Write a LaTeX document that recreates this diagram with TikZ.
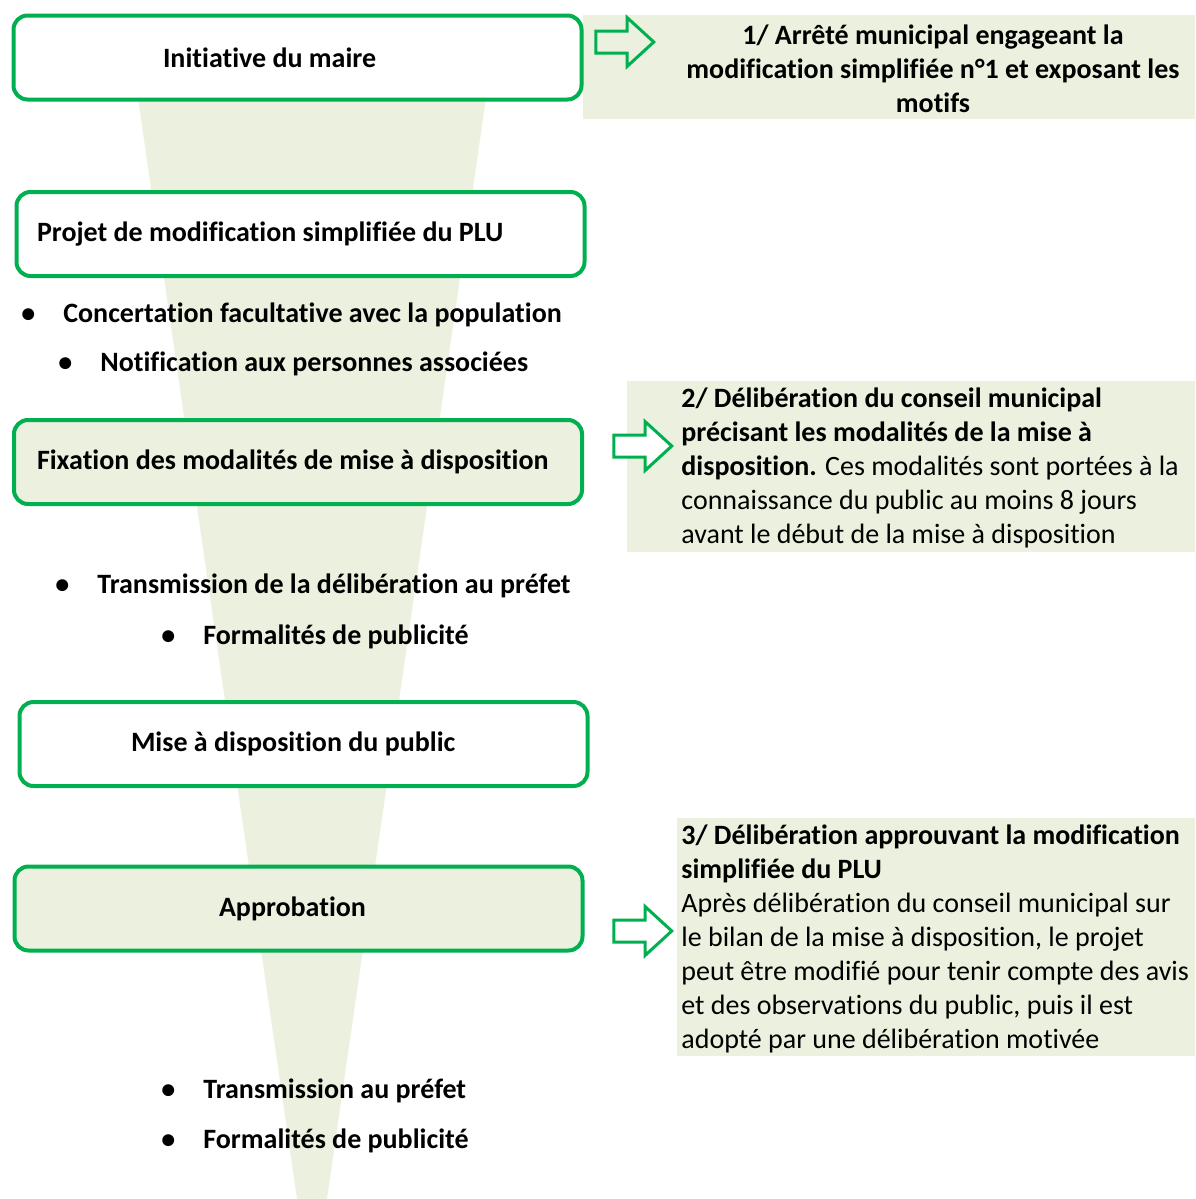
\documentclass[tikz,border=0pt]{standalone}
\usepackage{fontspec}
\setmainfont[Ligatures=NoCommon]{Carlito}
\usepackage{xcolor}
\usepackage{tikz}
\usetikzlibrary{shapes,arrows,positioning}

\definecolor{vertcadre}{HTML}{00B050}
\definecolor{vertpale}{HTML}{EBF1DE}

\begin{document}
\begin{tikzpicture}[
    x=0.5pt, y=-0.5pt,
    etape/.style={rectangle, draw=vertcadre, line width=2pt, rounded corners=7pt, minimum width=284pt, minimum height=42pt, inner sep=0pt, align=flush left, font=\fontsize{14pt}{17pt}\selectfont\bfseries},
    note/.style={inner sep=0pt, font=\fontsize{14pt}{17pt}\selectfont},
    puce/.style={anchor=west, inner sep=0pt, font=\fontsize{14pt}{17pt}\selectfont\bfseries, execute at begin node={\llap{\textbullet\hspace{14pt}}}},
    fleche/.style={single arrow, draw=vertcadre, line width=1.5pt, fill=white, minimum height=29pt, minimum width=23pt, inner xsep=0pt, inner ysep=4.75pt, single arrow head extend=6.75pt, single arrow tip angle=85, anchor=tip}]
    \useasboundingbox (0,0) rectangle (1195,1199);
    % entonnoir
    \fill[vertpale] (132.5,60) -- (491.5,60) -- (327,1199) -- (297,1199) -- cycle;
    % fonds des encadres de droite
    \fill[vertpale] (583,15) rectangle (1195,119);
    \fill[vertpale] (627,381) rectangle (1195,552);
    \fill[vertpale] (677,818) rectangle (1195,1056);

    % etapes
    \node[etape, fill=white, text width=134.5pt] (maire) at (297.5,57.5) {\mbox{Initiative du maire}};
    \node[etape, fill=white, text width=263.5pt] (projet) at (300.5,234) {\mbox{Projet de modification simplifiée du PLU}};
    \node[etape, fill=vertpale, text width=261pt] (fixation) at (298,462) {\mbox{Fixation des modalités de mise à disposition}};
    \node[etape, fill=white, text width=172.5pt] (miseDispo) at (303.5,744) {\mbox{Mise à disposition du public}};
    \node[etape, fill=vertpale, text width=79.5pt] (appro) at (298.5,908.5) {\mbox{Approbation}};

    \node[puce] (concertation) at (63,315) {Concertation facultative avec la population};
    \node[puce] (notification) at (100,364) {Notification aux personnes associées};
    \node[puce] (transDelib) at (97,586) {Transmission de la délibération au préfet};
    \node[puce] (publicite) at (203,637) {Formalités de publicité};
    \node[puce] (transPrefet) at (203,1091) {Transmission au préfet};
    \node[puce] (publiciteBis) at (203,1141) {Formalités de publicité};

    % fleches
    \node[fleche, fill=vertpale] (flecheA) at (656,42) {};
    \node[fleche] (flecheB) at (674,446) {};
    \node[fleche] (flecheC) at (674,931) {};

    % encadres de droite
    \node[note, align=center, font=\fontsize{14pt}{17pt}\selectfont\bfseries] (arrete) at (933,69) {1/ Arrêté municipal engageant la\\ modification simplifiée n°1 et exposant les\\ motifs};
    \node[note, align=left, anchor=west] (delibModalites) at (681,467.5) {\textbf{2/ Délibération du conseil municipal}\\ \textbf{précisant les modalités de la mise à}\\ \textbf{disposition.} Ces modalités sont portées à la\\ connaissance du public au moins 8 jours\\ avant le début de la mise à disposition};
    \node[note, align=left, anchor=west] (delibAppro) at (681,938.5) {\textbf{3/ Délibération approuvant la modification}\\ \textbf{simplifiée du PLU}\\ Après délibération du conseil municipal sur\\ le bilan de la mise à disposition, le projet\\ peut être modifié pour tenir compte des avis\\ et des observations du public, puis il est\\ adopté par une délibération motivée};
\end{tikzpicture}
\end{document}
